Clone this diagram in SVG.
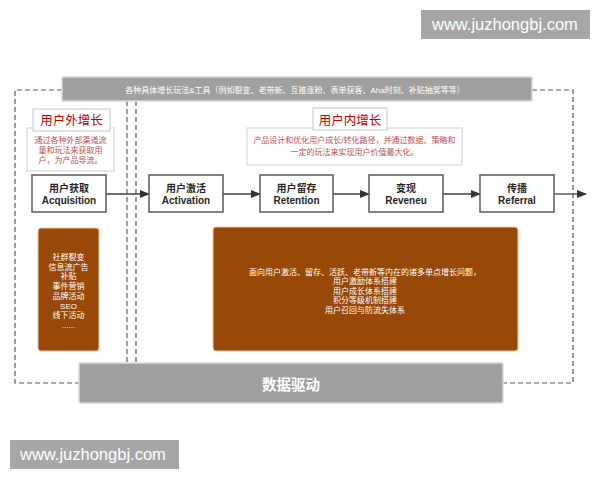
<svg xmlns="http://www.w3.org/2000/svg" width="600" height="480" viewBox="0 0 600 480">
<defs>
<marker id="ah" markerWidth="10" markerHeight="8" refX="9" refY="4" orient="auto" markerUnits="userSpaceOnUse">
<path d="M0,0 L10,4 L0,8 Z" fill="#333"/>
</marker>
</defs>
<style>
text{font-family:"Liberation Sans","Noto Sans CJK SC",sans-serif;}
.dash{fill:none;stroke:#595959;stroke-width:1.2;stroke-dasharray:5 3;}
.wm{fill:#a6a6a6;}
.wmt{fill:#fff;font-size:16.5px;}
.bar{fill:#a0a0a0;stroke:#d9d9d9;stroke-width:1.5;}
.step{fill:#fff;stroke:#595959;stroke-width:1.5;}
.stept{fill:#262626;font-size:10px;font-weight:bold;text-anchor:middle;}
.title{fill:#fff;stroke:#d9d9d9;stroke-width:1.5;}
.titlet{fill:#c00000;font-size:12.5px;text-anchor:middle;}
.desc{fill:#fff;stroke:#e0e0e0;stroke-width:1.5;}
.desct{fill:#c0504d;font-size:8px;text-anchor:middle;}
.brown{fill:#984807;stroke:#f4c89a;stroke-width:1;}
.brownt{fill:#fff;font-size:8px;text-anchor:middle;}
.conn{stroke:#404040;stroke-width:1.3;fill:none;marker-end:url(#ah);}
</style>
<rect width="600" height="480" fill="#fff"/>

<g id="frames">
<path class="dash" d="M62,90 H15 V383 H79"/>
<path class="dash" d="M532,90 H573 V383 H503"/>
<line class="dash" x1="127" y1="101" x2="127" y2="363"/>
<line class="dash" x1="136" y1="101" x2="136" y2="363"/>
</g>

<g id="wm-top">
<rect class="wm" x="421" y="10" width="169" height="29"/>
<text class="wmt" x="432" y="30">www.juzhongbj.com</text>
</g>
<g id="wm-bottom">
<rect class="wm" x="10" y="440" width="169" height="29"/>
<text class="wmt" x="20" y="460">www.juzhongbj.com</text>
</g>

<g id="tools-bar">
<rect class="bar" x="62" y="77" width="470" height="24" rx="1"/>
<text x="295" y="92.5" fill="#fff" font-size="8" text-anchor="middle">各种具体增长玩法&amp;工具（例如裂变、老带新、互推涨粉、表单获客、Aha时刻、补贴抽奖等等）</text>
</g>

<g id="connectors">
<line class="conn" x1="106" y1="194" x2="149" y2="194"/>
<line class="conn" x1="223" y1="194" x2="260" y2="194"/>
<line class="conn" x1="333" y1="194" x2="369" y2="194"/>
<line class="conn" x1="443" y1="194" x2="480" y2="194"/>
<line class="conn" x1="554" y1="194" x2="586" y2="194"/>
</g>

<g id="outer-desc">
<rect class="desc" x="27" y="128" width="87" height="43"/>
<text class="desct" x="70.5" y="143">通过各种外部渠道流</text>
<text class="desct" x="70.5" y="153">量和玩法来获取用</text>
<text class="desct" x="70.5" y="163">户，为产品导流。</text>
</g>
<g id="outer-title">
<rect class="title" x="33" y="109" width="77" height="22"/>
<text class="titlet" x="71.5" y="125">用户外增长</text>
</g>

<g id="inner-desc">
<rect class="desc" x="247" y="128" width="215" height="37"/>
<text class="desct" x="354.5" y="143">产品设计和优化用户成长/转化路径，并通过数据、策略和</text>
<text class="desct" x="354.5" y="155">一定的玩法来实现用户价值最大化。</text>
</g>
<g id="inner-title">
<rect class="title" x="313" y="108" width="74" height="22"/>
<text class="titlet" x="350" y="125">用户内增长</text>
</g>

<g id="acquisition">
<rect class="step" x="32" y="175" width="74" height="37"/>
<text class="stept" x="69" y="192">用户获取</text>
<text class="stept" x="69" y="204">Acquisition</text>
</g>
<g id="activation">
<rect class="step" x="149" y="175" width="74" height="37"/>
<text class="stept" x="186" y="192">用户激活</text>
<text class="stept" x="186" y="204">Activation</text>
</g>
<g id="retention">
<rect class="step" x="260" y="175" width="73" height="37"/>
<text class="stept" x="296.5" y="192">用户留存</text>
<text class="stept" x="296.5" y="204">Retention</text>
</g>
<g id="revenue">
<rect class="step" x="369" y="175" width="74" height="37"/>
<text class="stept" x="406" y="192">变现</text>
<text class="stept" x="406" y="204">Reveneu</text>
</g>
<g id="referral">
<rect class="step" x="480" y="175" width="74" height="37"/>
<text class="stept" x="517" y="192">传播</text>
<text class="stept" x="517" y="204">Referral</text>
</g>

<g id="outer-methods">
<rect class="brown" x="38" y="228" width="61" height="123" rx="3"/>
<text class="brownt" x="68.5" y="260">社群裂变</text>
<text class="brownt" x="68.5" y="269.7">信息流广告</text>
<text class="brownt" x="68.5" y="279.4">补贴</text>
<text class="brownt" x="68.5" y="289.1">事件营销</text>
<text class="brownt" x="68.5" y="298.8">品牌活动</text>
<text class="brownt" x="68.5" y="308.5">SEO</text>
<text class="brownt" x="68.5" y="318.2">线下活动</text>
<text class="brownt" x="68.5" y="327.9">......</text>
</g>

<g id="inner-methods">
<rect class="brown" x="213" y="227" width="305" height="124" rx="3"/>
<text class="brownt" x="365" y="274.5">面向用户激活、留存、活跃、老带新等内在的诸多单点增长问题，</text>
<text class="brownt" x="365" y="284">用户激励体系搭建</text>
<text class="brownt" x="365" y="293.5">用户成长体系搭建</text>
<text class="brownt" x="365" y="303">积分等级机制搭建</text>
<text class="brownt" x="365" y="312.5">用户召回与防流失体系</text>
</g>

<g id="data-driven">
<rect class="bar" x="79" y="363" width="424" height="40" rx="1"/>
<text x="291" y="390" fill="#fff" font-size="14.5" font-weight="bold" text-anchor="middle">数据驱动</text>
</g>
</svg>
